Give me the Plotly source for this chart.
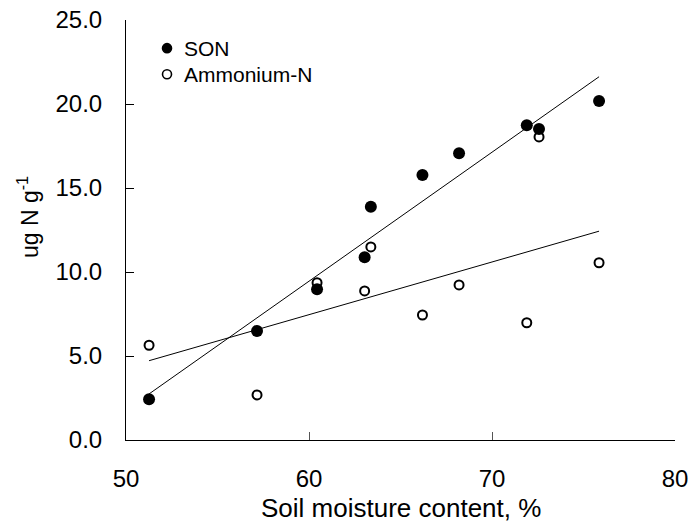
import numpy as np
import plotly.graph_objects as go

# Data
moisture = [51.26, 57.16, 60.44, 63.04, 63.38, 66.2, 68.2, 71.9, 72.57, 75.85]
son = [2.42, 6.49, 8.97, 10.88, 13.89, 15.77, 17.07, 18.73, 18.51, 20.18]
ammonium = [5.64, 2.68, 9.36, 8.87, 11.49, 7.44, 9.23, 6.98, 18.04, 10.55]
series_names = ["SON", "Ammonium-N"]
x_ticks = [50, 60, 70, 80]
y_ticks = [0, 5, 10, 15, 20, 25]

FONT = "Arial, Liberation Sans, sans-serif"

x_arr = np.array(moisture)
xfit = np.array([x_arr.min(), x_arr.max()])


def trend(y):
    m, b = np.polyfit(x_arr, np.array(y), 1)
    return m * xfit + b


fig = go.Figure()

# trend lines
for ys in (son, ammonium):
    fig.add_trace(go.Scatter(x=xfit, y=trend(ys), mode="lines",
                             line=dict(color="black", width=1),
                             showlegend=False, hoverinfo="skip"))

fig.add_trace(go.Scatter(x=moisture, y=ammonium, mode="markers", name=series_names[1],
                         marker=dict(symbol="circle", size=9, color="white",
                                     line=dict(color="black", width=2)),
                         showlegend=False))
fig.add_trace(go.Scatter(x=moisture, y=son, mode="markers", name=series_names[0],
                         marker=dict(symbol="circle", size=12, color="black",
                                     line=dict(width=0)),
                         showlegend=False))

fig.update_layout(
    width=694, height=531,
    margin=dict(l=126, r=19, t=20, b=91),
    paper_bgcolor="white", plot_bgcolor="white",
    font=dict(family=FONT, color="black"),
    xaxis=dict(range=[50, 80], tickvals=x_ticks, ticks="inside", ticklen=8,
               tickcolor="#555", tickwidth=1, showline=True, linecolor="black",
               linewidth=1, showgrid=False, zeroline=False, automargin=False,
               tickfont=dict(size=24, family=FONT), ticklabelstandoff=17),
    yaxis=dict(range=[0, 25], tickvals=y_ticks, tickformat=".1f", ticks="inside",
               ticklen=8, tickcolor="black", tickwidth=1, showline=True,
               linecolor="black", linewidth=1, showgrid=False, zeroline=False,
               automargin=False,
               tickfont=dict(size=24, family=FONT), ticklabelstandoff=18),
)

# axis titles
fig.add_annotation(text="Soil moisture content, %", xref="paper", yref="paper",
                   x=0.5, y=0, yshift=-51, xanchor="center", yanchor="top",
                   showarrow=False, font=dict(size=26, family=FONT))
fig.add_annotation(text="ug N g<sup>-1</sup>", xref="paper", yref="paper",
                   x=0, y=0.5, xshift=-98, yshift=13, xanchor="center", yanchor="middle",
                   textangle=-90, showarrow=False, font=dict(size=23, family=FONT))

# legend (manual)
leg_x = 0.0747
leg_y = [0.933, 0.871]
fills = ["black", "white"]
for yy, fc in zip(leg_y, fills):
    fig.add_shape(type="circle", xref="paper", yref="paper",
                  xsizemode="pixel", ysizemode="pixel",
                  xanchor=leg_x, yanchor=yy, x0=-4.5, x1=4.5, y0=-4.5, y1=4.5,
                  fillcolor=fc, line=dict(color="black", width=1.6))
for yy, name in zip(leg_y, series_names):
    fig.add_annotation(text=name, xref="paper", yref="paper", x=0.102, y=yy,
                       xanchor="left", yanchor="middle", showarrow=False,
                       font=dict(size=21, family=FONT))

fig.write_html("out.html")
